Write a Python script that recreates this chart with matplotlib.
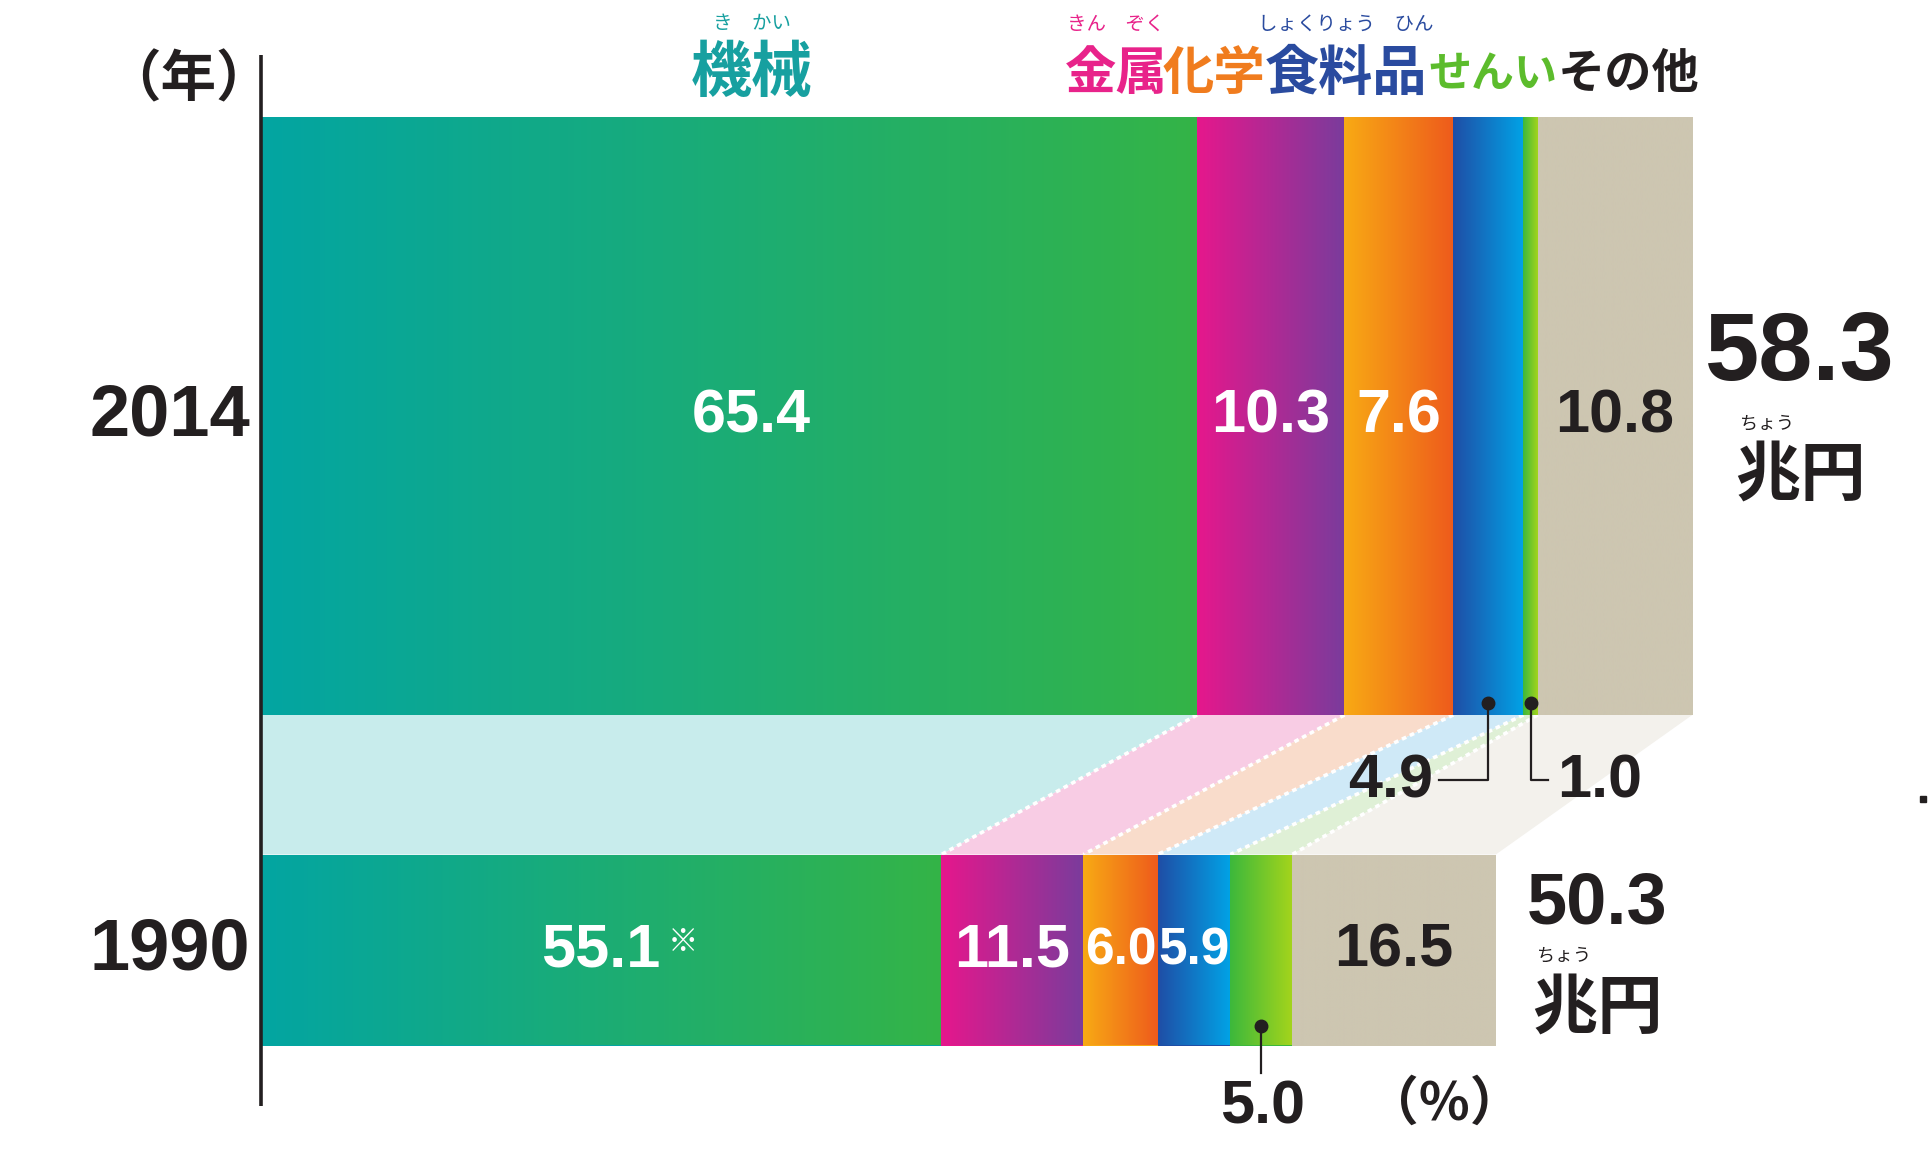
import numpy as np
import matplotlib
matplotlib.use("Agg")
import matplotlib.pyplot as plt
from matplotlib.colors import to_rgb
from matplotlib.patches import Polygon

# ---------------- data ----------------
years = ["2014", "1990"]
totals = [58.3, 50.3]                       # 兆円
categories = ["機械", "金属", "化学", "食料品", "せんい", "その他"]
share_2014 = [65.4, 10.3, 7.6, 4.9, 1.0, 10.8]   # %
share_1990 = [55.1, 11.5, 6.0, 5.9, 5.0, 16.5]   # %
value_labels_2014 = ["65.4", "10.3", "7.6", "4.9", "1.0", "10.8"]
value_labels_1990 = ["55.1", "11.5", "6.0", "5.9", "5.0", "16.5"]
total_labels = ["58.3", "50.3"]

# ---------------- styles ----------------
grad_colors = [("#03a5a2", "#34b447"),
               ("#e6178c", "#7a3c9c"),
               ("#f8aa14", "#ee5b1c"),
               ("#1f4ea6", "#01a3e6"),
               ("#3cb83c", "#a3d41c"),
               ("#cdc6b1", "#cdc6b1")]
band_colors = ["#c8ecec", "#f8cce4", "#f9dccb", "#cfe9f7", "#dff0d6", "#f3f1ec"]
head_colors = ["#17a0a0", "#e8238a", "#f07c1e", "#2a4b9f", "#5cbc2c", "#231f20"]
rubies = ["き　かい", "きん　ぞく", None, "しょくりょう　ひん", None, None]
head_x_px = [752, 1116, 1214, 1346, 1493, 1629]
head_sizes = [44, 37, 37, 39, 31, 34]
DARK = "#231f20"

NUM = ["Liberation Sans", "DejaVu Sans"]
JP = ["Noto Sans CJK JP", "DejaVu Sans"]
plt.rcParams["font.family"] = JP

W, H = 1933, 1173
X0_PX = 261.0
PX_PER_UNIT = 24.55

def px2x(px):
    return (px - X0_PX) / PX_PER_UNIT

fig = plt.figure(figsize=(W / 100, H / 100), dpi=100)
ax = fig.add_axes([0, 0, 1, 1])
ax.set_xlim(px2x(0), px2x(W))
ax.set_ylim(H, 0)
ax.axis("off")

# bar geometry (pixel rows)
bar_y = [416, 950]
bar_h = [598, 191]

def gradient(c0, c1, n=256):
    a, b = np.array(to_rgb(c0)), np.array(to_rgb(c1))
    t = np.linspace(0, 1, n)[:, None]
    return (a * (1 - t) + b * t)[None, :, :]

shares = [share_2014, share_1990]
lefts_all = []
widths_all = []
for yi, (yc, hh, tot, sh) in enumerate(zip(bar_y, bar_h, totals, shares)):
    widths = np.array(sh) * tot / 100.0
    lefts = np.concatenate([[0], np.cumsum(widths)[:-1]])
    lefts_all.append(lefts)
    widths_all.append(widths)
    bars = ax.barh([yc] * len(widths), widths, left=lefts, height=hh,
                   color=[c[0] for c in grad_colors], linewidth=0, zorder=2)
    for p, (c0, c1) in zip(bars.patches, grad_colors):
        x0, w = p.get_x(), p.get_width()
        y0, h = p.get_y(), p.get_height()
        im = ax.imshow(gradient(c0, c1), extent=(x0, x0 + w, y0 + h, y0),
                       aspect="auto", interpolation="bilinear", zorder=3)
        im.set_clip_path(p)

# connector bands between the two bars
top_edge = bar_y[0] + bar_h[0] / 2
bot_edge = bar_y[1] - bar_h[1] / 2
c14 = np.concatenate([[0], np.cumsum(widths_all[0])])
c90 = np.concatenate([[0], np.cumsum(widths_all[1])])
for i in range(len(categories)):
    poly = Polygon([(c14[i], top_edge), (c14[i + 1], top_edge),
                    (c90[i + 1], bot_edge), (c90[i], bot_edge)],
                   closed=True, facecolor=band_colors[i], edgecolor="none", zorder=1)
    ax.add_patch(poly)
for i in range(1, len(categories)):
    ax.plot([c14[i], c90[i]], [top_edge, bot_edge], color="white", lw=2.6,
            linestyle=(0, (1.3, 1.1)), zorder=1.5, solid_capstyle="butt")

# axis line
ax.plot([0, 0], [55, 1106], color=DARK, lw=2.6, zorder=5, solid_capstyle="butt")
ax.text(px2x(188), 80, "（年）", fontsize=40, fontweight="bold", color=DARK,
        ha="center", va="center", family=JP)

# year labels
for yc, yr in zip(bar_y, years):
    ax.text(px2x(250), yc, yr, fontsize=52, fontweight="bold", color=DARK,
            ha="right", va="center", family=NUM)

# category headers with ruby
for cat, col, xp, fs, rb in zip(categories, head_colors, head_x_px, head_sizes, rubies):
    ax.text(px2x(xp), 74, cat, fontsize=fs, fontweight="bold", color=col,
            ha="center", va="center", family=JP)
    if rb:
        ax.text(px2x(xp), 24, rb, fontsize=14, color=col,
                ha="center", va="center", family=JP)

# value labels inside bars
inside_2014 = [0, 1, 2, 5]
inside_1990 = [0, 1, 2, 3, 5]
small_1990 = [2, 3]
label_dx_2014 = {0: 0.9}
for yi, (inside, labels) in enumerate([(inside_2014, value_labels_2014),
                                       (inside_1990, value_labels_1990)]):
    lefts, widths = lefts_all[yi], widths_all[yi]
    for i in inside:
        cx = lefts[i] + widths[i] / 2
        if yi == 0:
            cx += label_dx_2014.get(i, 0)
        col = DARK if i == 5 else "white"
        fs = 37 if (yi == 1 and i in small_1990) else 44
        ax.text(cx, bar_y[yi] + 1, labels[i], fontsize=fs, fontweight="bold",
                color=col, ha="center", va="center", family=NUM, zorder=6)
# ※ mark next to 55.1
ax.annotate("※", xy=(lefts_all[1][0] + widths_all[1][0] / 2, bar_y[1]),
            xytext=(59, 6), textcoords="offset points", fontsize=22,
            color="white", ha="center", va="center", family=JP, zorder=6)

# callouts
def dot(x, y):
    ax.plot([x], [y], "o", color=DARK, ms=9, zorder=7)

# 4.9 (2014)
x49 = lefts_all[0][3] + widths_all[0][3] / 2
dot(x49, 703)
ax.plot([x49, x49, x49 - 2.0], [703, 780, 780], color=DARK, lw=1.6, zorder=7)
ax.text(x49 - 2.25, 782, value_labels_2014[3], fontsize=44, fontweight="bold",
        color=DARK, ha="right", va="center", family=NUM)
# 1.0 (2014)
x10 = lefts_all[0][4] + widths_all[0][4] / 2
dot(x10, 703)
ax.plot([x10, x10, x10 + 0.7], [703, 780, 780], color=DARK, lw=1.6, zorder=7)
ax.text(x10 + 1.1, 782, value_labels_2014[4], fontsize=44, fontweight="bold",
        color=DARK, ha="left", va="center", family=NUM)
# 5.0 (1990)
x50 = lefts_all[1][4] + widths_all[1][4] / 2
dot(x50, 1026)
ax.plot([x50, x50], [1026, 1073], color=DARK, lw=1.6, zorder=7)
ax.text(x50 + 0.05, 1108, value_labels_1990[4], fontsize=44, fontweight="bold",
        color=DARK, ha="center", va="center", family=NUM)
ax.text(px2x(1444), 1104, "（%）", fontsize=38, fontweight="bold", color=DARK,
        ha="center", va="center", family=JP)

# totals
tot_x_px = [1800, 1597]
tot_y = [355, 904]
tot_fs = [70, 52]
unit_y = [475, 1008]
ruby_y = [423, 955]
for k in range(2):
    ax.text(px2x(tot_x_px[k]), tot_y[k], total_labels[k], fontsize=tot_fs[k],
            fontweight="bold", color=DARK, ha="center", va="center", family=NUM)
    ax.text(px2x(tot_x_px[k]), unit_y[k], "兆円", fontsize=47, fontweight="bold",
            color=DARK, ha="center", va="center", family=JP)
    ax.annotate("ちょう", xy=(px2x(tot_x_px[k]), ruby_y[k]), xytext=(-24, 0),
                textcoords="offset points", fontsize=13, color=DARK,
                ha="center", va="center", family=JP)

# stray mark at right edge
ax.plot([px2x(1923)], [799], "s", color=DARK, ms=5)

ax.set_xlim(px2x(0), px2x(W))
ax.set_ylim(H, 0)
fig.savefig("out.png", dpi=100, facecolor="white")
